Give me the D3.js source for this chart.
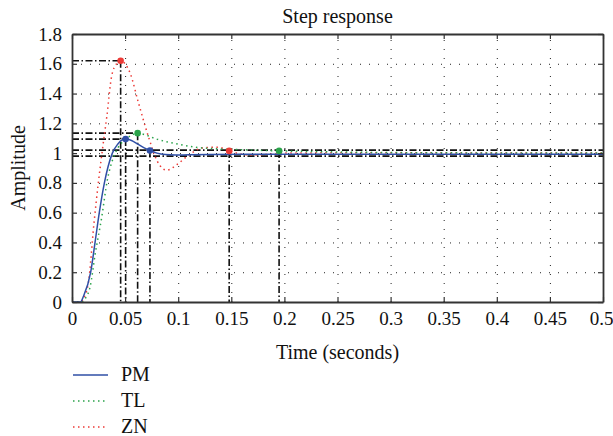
<!DOCTYPE html>
<html>
<head>
<meta charset="utf-8">
<script src="https://cdn.jsdelivr.net/npm/d3@7"></script>
<style>
  body { margin: 0; background: #fff; }
</style>
</head>
<body>
<div id="chart"></div>
<script>
// step response samples (time in s, amplitude)
const pmTime = [0, 0.008, 0.0106, 0.0176, 0.0217, 0.0257, 0.0305, 0.034, 0.038, 0.043, 0.0475, 0.0505, 0.056, 0.062, 0.068, 0.0734, 0.08, 0.088, 0.097, 0.11, 0.13, 0.16, 0.2, 0.3, 0.5];
const pmValues = [0, 0, 0.035, 0.2, 0.4, 0.6, 0.8, 0.91, 1.0, 1.06, 1.09, 1.094, 1.085, 1.06, 1.035, 1.018, 1.0, 0.99, 0.987, 0.989, 0.991, 0.992, 0.992, 0.992, 0.992];

const tlTime = [0, 0.009, 0.013, 0.017, 0.022, 0.028, 0.0333, 0.038, 0.0436, 0.05, 0.056, 0.0618, 0.07, 0.0797, 0.09, 0.097, 0.116, 0.133, 0.152, 0.175, 0.195, 0.23, 0.28, 0.35, 0.5];
const tlValues = [0, 0, 0.03, 0.1, 0.33, 0.57, 0.82, 0.95, 1.04, 1.09, 1.12, 1.134, 1.12, 1.094, 1.075, 1.065, 1.04, 1.03, 1.025, 1.019, 1.015, 1.01, 1.005, 1.002, 1.0];

const znTime = [0, 0.008, 0.012, 0.0154, 0.0207, 0.0248, 0.0295, 0.0327, 0.0374, 0.042, 0.0458, 0.05, 0.0546, 0.0625, 0.072, 0.08, 0.089, 0.1, 0.11, 0.123, 0.137, 0.148, 0.158, 0.168, 0.18, 0.2, 0.25, 0.5];
const znValues = [0, 0, 0.04, 0.127, 0.53, 0.8, 1.07, 1.24, 1.52, 1.6, 1.62, 1.6, 1.54, 1.34, 1.11, 0.95, 0.885, 0.93, 0.987, 1.035, 1.04, 1.015, 0.995, 0.987, 0.99, 1.0, 1.002, 1.0];

// characteristic points: peak and settling time for each system
const seriesNames = ["PM", "TL", "ZN"];
const peakTime = [0.0505, 0.0618, 0.0458];
const peakValue = [1.094, 1.134, 1.62];
const settleTime = [0.0734, 0.195, 0.148];
const settleValue = [1.018, 1.015, 1.015];
const settleBand = [1.02, 0.98];

const xTicks = [0, 0.05, 0.1, 0.15, 0.2, 0.25, 0.3, 0.35, 0.4, 0.45, 0.5];
const xTickLabels = ["0", "0.05", "0.1", "0.15", "0.2", "0.25", "0.3", "0.35", "0.4", "0.45", "0.5"];
const yTicks = [0, 0.2, 0.4, 0.6, 0.8, 1, 1.2, 1.4, 1.6, 1.8];
const yTickLabels = ["0", "0.2", "0.4", "0.6", "0.8", "1", "1.2", "1.4", "1.6", "1.8"];

const colors = ["#2f4fa6", "#2aa34a", "#ec3a36"];
const serif = "'Liberation Serif', 'Times New Roman', serif";

const W = 613, H = 436;
const margin = { top: 34, right: 10, bottom: 134, left: 72 };
const width = W - margin.left - margin.right;
const height = H - margin.top - margin.bottom;

const svg = d3.select("#chart").append("svg")
    .attr("width", W)
    .attr("height", H)
    .style("font-family", serif);
const g = svg.append("g")
    .attr("transform", `translate(${margin.left},${margin.top})`);

const x = d3.scaleLinear().domain([0, 0.5]).range([0, width]);
const y = d3.scaleLinear().domain([0, 1.8]).range([height, 0]);

// dotted grid
g.append("g")
    .attr("transform", `translate(0,${height})`)
    .call(d3.axisBottom(x).tickValues(xTicks).tickSize(-height).tickFormat(""))
    .call(a => a.select(".domain").remove())
    .selectAll("line")
    .attr("stroke", "#222")
    .attr("stroke-width", 1)
    .attr("stroke-dasharray", "1,8");
g.append("g")
    .call(d3.axisLeft(y).tickValues(yTicks).tickSize(-width).tickFormat(""))
    .call(a => a.select(".domain").remove())
    .selectAll("line")
    .attr("stroke", "#222")
    .attr("stroke-width", 1)
    .attr("stroke-dasharray", "1,8");

// dash-dot characteristic lines
const dashDot = "7,2.5,1.5,2.5";
const refs = g.append("g")
    .attr("stroke", "#111")
    .attr("stroke-width", 1.6)
    .attr("stroke-dasharray", dashDot)
    .attr("fill", "none");
settleBand.forEach(v => {
    refs.append("line")
        .attr("x1", x(0)).attr("x2", x(0.5))
        .attr("y1", y(v)).attr("y2", y(v));
});
seriesNames.forEach((n, i) => {
    refs.append("line")
        .attr("x1", x(0)).attr("x2", x(peakTime[i]))
        .attr("y1", y(peakValue[i])).attr("y2", y(peakValue[i]));
    refs.append("line")
        .attr("x1", x(peakTime[i])).attr("x2", x(peakTime[i]))
        .attr("y1", y(peakValue[i])).attr("y2", y(0));
    refs.append("line")
        .attr("x1", x(settleTime[i])).attr("x2", x(settleTime[i]))
        .attr("y1", y(settleValue[i])).attr("y2", y(0));
});

// curves
const line = d3.line()
    .x(d => x(d[0]))
    .y(d => y(d[1]))
    .curve(d3.curveMonotoneX);

const curves = [
    { name: "ZN", t: znTime, v: znValues, color: colors[2], dash: "1.5,3.5" },
    { name: "TL", t: tlTime, v: tlValues, color: colors[1], dash: "1.5,3.5" },
    { name: "PM", t: pmTime, v: pmValues, color: colors[0], dash: null }
];
curves.forEach(c => {
    g.append("path")
        .datum(c.t.map((t, i) => [t, c.v[i]]))
        .attr("fill", "none")
        .attr("stroke", c.color)
        .attr("stroke-width", 1.5)
        .attr("stroke-dasharray", c.dash)
        .attr("d", line);
});

// markers
seriesNames.forEach((n, i) => {
    g.append("circle")
        .attr("cx", x(peakTime[i])).attr("cy", y(peakValue[i]))
        .attr("r", 3.3).attr("fill", colors[i]);
    g.append("circle")
        .attr("cx", x(settleTime[i])).attr("cy", y(settleValue[i]))
        .attr("r", 3.3).attr("fill", colors[i]);
});

// axes with inward ticks on all four sides
const styleAxis = a => {
    a.attr("font-family", serif).attr("font-size", 19);
    a.select(".domain").attr("stroke", "#333").attr("stroke-width", 1.8);
    a.selectAll(".tick line").attr("stroke", "#333").attr("stroke-width", 1.2);
    a.selectAll("text").attr("fill", "#111");
};
g.append("g")
    .attr("transform", `translate(0,${height})`)
    .call(d3.axisBottom(x).tickValues(xTicks).tickSizeInner(-5).tickSizeOuter(0).tickPadding(10)
        .tickFormat((d, i) => xTickLabels[i]))
    .call(styleAxis)
    .call(a => a.selectAll(".tick:last-of-type text").attr("dx", -2));
g.append("g")
    .call(d3.axisLeft(y).tickValues(yTicks).tickSizeInner(-5).tickSizeOuter(0).tickPadding(10)
        .tickFormat((d, i) => yTickLabels[i]))
    .call(styleAxis);
g.append("g")
    .call(d3.axisTop(x).tickValues(xTicks).tickSizeInner(-5).tickSizeOuter(0).tickFormat(""))
    .call(styleAxis);
g.append("g")
    .attr("transform", `translate(${width},0)`)
    .call(d3.axisRight(y).tickValues(yTicks).tickSizeInner(-5).tickSizeOuter(0).tickFormat(""))
    .call(styleAxis);

// titles
svg.append("text")
    .attr("x", margin.left + width / 2).attr("y", 23)
    .attr("text-anchor", "middle").attr("font-size", 20)
    .attr("font-family", serif).attr("fill", "#111")
    .text("Step response");
svg.append("text")
    .attr("x", margin.left + width / 2).attr("y", 359)
    .attr("text-anchor", "middle").attr("font-size", 20)
    .attr("font-family", serif).attr("fill", "#111")
    .text("Time (seconds)");
svg.append("text")
    .attr("transform", `translate(25,${margin.top + height / 2}) rotate(-90)`)
    .attr("text-anchor", "middle").attr("font-size", 20)
    .attr("font-family", serif).attr("fill", "#111")
    .text("Amplitude");

// legend
const legendDash = [null, "1.5,3.5", "1.5,3.5"];
const legend = svg.append("g").attr("transform", "translate(73,375)");
seriesNames.forEach((n, i) => {
    const row = legend.append("g").attr("transform", `translate(0,${i * 26})`);
    row.append("line")
        .attr("x1", 0).attr("x2", 35).attr("y1", 0).attr("y2", 0)
        .attr("stroke", colors[i]).attr("stroke-width", 1.5)
        .attr("stroke-dasharray", legendDash[i]);
    row.append("text")
        .attr("x", 48).attr("y", 6)
        .attr("font-size", 20)
        .attr("font-family", serif).attr("fill", "#111")
        .text(n);
});
</script>
</body>
</html>
